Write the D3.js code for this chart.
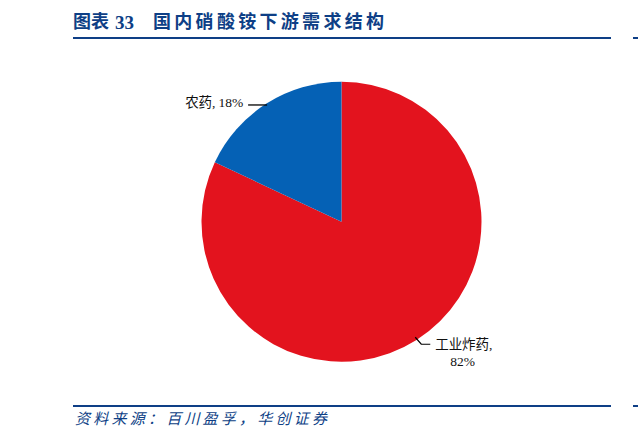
<!DOCTYPE html>
<html>
<head>
<meta charset="utf-8">
<script src="https://cdn.jsdelivr.net/npm/d3@7"></script>
<style>
  body { margin: 0; background: #fff; }
  svg { display: block; }
</style>
</head>
<body>
<div id="chart"></div>
<script>
var width = 638, height = 439;

// data
var categories = ["工业炸药", "农药"];
var shares = [82, 18];
var colors = ["#E3131E", "#0561B5"];

var svg = d3.select("#chart")
  .append("svg")
    .attr("width", width)
    .attr("height", height);

var navy = "#0E3F86";
var serifCJK = "'Liberation Serif', 'Noto Sans CJK SC', serif";

// title, split so the latin bit keeps a serif face
svg.append("text")
  .attr("x", 73)
  .attr("y", 28)
  .attr("textLength", 36)
  .attr("lengthAdjust", "spacing")
  .style("font-family", "'Noto Sans CJK SC', sans-serif")
  .style("font-size", "18px")
  .style("font-weight", "bold")
  .style("fill", navy)
  .text("图表");

svg.append("text")
  .attr("x", 115)
  .attr("y", 29)
  .style("font-family", "'Liberation Serif', serif")
  .style("font-size", "19px")
  .style("font-weight", "bold")
  .style("fill", navy)
  .text("33");

svg.append("text")
  .attr("x", 153)
  .attr("y", 28)
  .attr("textLength", 231)
  .attr("lengthAdjust", "spacing")
  .style("font-family", "'Noto Sans CJK SC', sans-serif")
  .style("font-size", "18px")
  .style("font-weight", "bold")
  .style("fill", navy)
  .text("国内硝酸铵下游需求结构");

// rules
[38, 406].forEach(function(y) {
  svg.append("line")
    .attr("x1", 73).attr("x2", 611)
    .attr("y1", y).attr("y2", y)
    .attr("stroke", navy)
    .attr("stroke-width", 2);
  svg.append("line")
    .attr("x1", 633).attr("x2", 638)
    .attr("y1", y).attr("y2", y)
    .attr("stroke", navy)
    .attr("stroke-width", 2);
});

svg.append("text")
  .attr("x", 75)
  .attr("y", 424)
  .attr("textLength", 252)
  .attr("lengthAdjust", "spacing")
  .style("font-family", "'Noto Sans CJK SC', sans-serif")
  .style("font-size", "15px")
  .style("font-style", "italic")
  .style("fill", navy)
  .text("资料来源：百川盈孚，华创证券");

// pie
var cx = 341.5, cy = 221.8, r = 140;

var data = categories.map(function(c, i) {
  return {name: c, value: shares[i], color: colors[i]};
});

var pie = d3.pie()
  .sort(null)
  .value(function(d) { return d.value; });

var arc = d3.arc().innerRadius(0).outerRadius(r);

var g = svg.append("g")
  .attr("transform", "translate(" + cx + "," + cy + ")");

var arcs = pie(data);

g.selectAll(".slice")
  .data(arcs)
  .enter().append("path")
    .attr("class", "slice")
    .attr("d", arc)
    .attr("fill", function(d) { return d.data.color; });

function edge(a, rr) {
  return [Math.sin(a) * rr, -Math.cos(a) * rr];
}

// 工业炸药 (red), label lower right
var red = arcs[0];
var pRed = edge(2.573, r - 3);
g.append("polyline")
  .attr("points", [pRed, [pRed[0] + 6, pRed[1] + 7], [pRed[0] + 15, pRed[1] + 7]].map(function(p) { return p.join(","); }).join(" "))
  .attr("fill", "none")
  .attr("stroke", "#000")
  .attr("stroke-width", 1.2);

var redLabel = g.append("text")
  .style("font-family", serifCJK)
  .style("font-size", "13.5px")
  .style("fill", "#111");
redLabel.append("tspan")
  .attr("x", pRed[0] + 20).attr("y", pRed[1] + 12)
  .attr("textLength", 57)
  .attr("lengthAdjust", "spacing")
  .text(red.data.name + ",");
redLabel.append("tspan")
  .attr("x", pRed[0] + 35).attr("y", pRed[1] + 29)
  .text(red.data.value + "%");

// 农药 (blue), label upper left
var blue = arcs[1];
var pBlue = edge(-0.567, r - 1.5);
g.append("line")
  .attr("x1", pBlue[0] - 19).attr("x2", pBlue[0])
  .attr("y1", pBlue[1]).attr("y2", pBlue[1])
  .attr("stroke", "#000")
  .attr("stroke-width", 1.3);

g.append("text")
  .attr("x", pBlue[0] - 82)
  .attr("y", pBlue[1] + 2)
  .attr("textLength", 58)
  .attr("lengthAdjust", "spacing")
  .style("font-family", serifCJK)
  .style("font-size", "13.5px")
  .style("fill", "#111")
  .text(blue.data.name + ", " + blue.data.value + "%");
</script>
</body>
</html>
